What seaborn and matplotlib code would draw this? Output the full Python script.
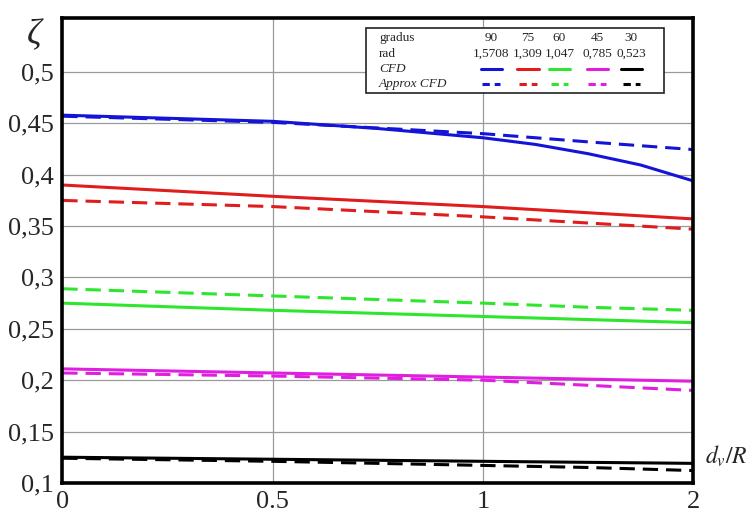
import numpy as np
import pandas as pd
import matplotlib
matplotlib.use("Agg")
import matplotlib.pyplot as plt
import seaborn as sns
from matplotlib.patches import Rectangle

# d_v/R sample points (axis is drawn with equal spacing for 0, 0.5, 1, 2)
dvr = [0, 0.5, 1, 1.5, 2]
dvr_fine = [0, 0.25, 0.5, 0.75, 1, 1.25, 1.5, 1.75, 2]  # blue CFD curve bends
tick_vals = [0, 0.5, 1, 2]
tick_labels = ["0", "0.5", "1", "2"]

angles_deg = ["90", "75", "60", "45", "30"]
angles_rad = ["1,5708", "1,309", "1,047", "0,785", "0,523"]
colors = ["#1414d8", "#e01c1c", "#2ee62e", "#e01ee0", "#000000"]

cfd_90 = [0.458, 0.455, 0.452, 0.445, 0.436, 0.4295, 0.4205, 0.4095, 0.394]
cfd = {
    "75": [0.390, 0.379, 0.369, 0.363, 0.357],
    "60": [0.275, 0.268, 0.262, 0.259, 0.256],
    "45": [0.211, 0.207, 0.203, 0.201, 0.199],
    "30": [0.125, 0.123, 0.121, 0.120, 0.119],
}
approx = {
    "90": [0.457, 0.451, 0.440, 0.432, 0.4245],
    "75": [0.375, 0.369, 0.359, 0.353, 0.347],
    "60": [0.289, 0.282, 0.275, 0.271, 0.268],
    "45": [0.207, 0.204, 0.200, 0.195, 0.190],
    "30": [0.124, 0.121, 0.117, 0.115, 0.112],
}
yticks = [0.1, 0.15, 0.2, 0.25, 0.3, 0.35, 0.4, 0.45, 0.5]


def to_pos(x):
    return np.interp(x, tick_vals, range(len(tick_vals)))


# long table for seaborn
rows = []
for x, v in zip(dvr_fine, cfd_90):
    rows.append({"pos": to_pos(x), "zeta": v, "angle": "90", "model": "CFD"})
for a in angles_deg:
    for i, x in enumerate(dvr):
        if a in cfd:
            rows.append({"pos": to_pos(x), "zeta": cfd[a][i], "angle": a, "model": "CFD"})
        rows.append({"pos": to_pos(x), "zeta": approx[a][i], "angle": a, "model": "Approx CFD"})
df = pd.DataFrame(rows)

sns.set_style("white")
plt.rcParams["font.family"] = ["Liberation Serif", "DejaVu Serif"]

fig = plt.figure(figsize=(7.51, 5.17), dpi=100)
ax = fig.add_axes([0.083, 0.066, 0.840, 0.899])

sns.lineplot(data=df, x="pos", y="zeta", hue="angle", style="model",
             palette=dict(zip(angles_deg, colors)),
             dashes={"CFD": "", "Approx CFD": (5, 2.6)},
             linewidth=2.2, legend=False, ax=ax)

ax.set_xlim(0, 3)
ax.set_ylim(0.1, 0.5525)
ax.set_xticks(range(4))
ax.set_xticklabels(tick_labels)
ax.set_yticks(yticks)
ax.set_yticklabels([f"{v:g}".replace(".", ",") for v in yticks])
ax.tick_params(labelsize=19, length=0, pad=6)
ax.grid(True, color="#9a9a9a", linewidth=0.9)
ax.set_axisbelow(True)
for s in ax.spines.values():
    s.set_linewidth(2.6)
    s.set_color("black")
ax.set_xlabel("")
ax.set_ylabel("")

fig.text(0.045, 0.93, "ζ", fontsize=26, style="italic", ha="center", va="center")
fig.text(0.995, 0.118, r"$d_v/R$", fontsize=17, ha="right", va="center",
         math_fontfamily="stix")

# table-style legend
ax.add_patch(Rectangle((0.482, 0.839), 0.472, 0.139, transform=ax.transAxes,
                       facecolor="white", edgecolor="#222222", linewidth=1.2, zorder=5))
row_y = [0.957, 0.923, 0.890, 0.858]
col_x = [0.680, 0.738, 0.788, 0.848, 0.902]
fs = 9.5
ax.text(0.502, row_y[0], "gradus", transform=ax.transAxes, fontsize=fs, va="center", zorder=6)
ax.text(0.502, row_y[1], "rad", transform=ax.transAxes, fontsize=fs, va="center", zorder=6)
ax.text(0.502, row_y[2], "CFD", transform=ax.transAxes, fontsize=fs, va="center", style="italic", zorder=6)
ax.text(0.502, row_y[3], "Approx CFD", transform=ax.transAxes, fontsize=fs, va="center", style="italic", zorder=6)
for cx, d, r, col in zip(col_x, angles_deg, angles_rad, colors):
    ax.text(cx, row_y[0], d, transform=ax.transAxes, fontsize=fs, ha="center", va="center", zorder=6)
    ax.text(cx, row_y[1], r, transform=ax.transAxes, fontsize=fs, ha="center", va="center", zorder=6)
    ax.plot([cx - 0.017, cx + 0.017], [row_y[2]] * 2, transform=ax.transAxes,
            color=col, linewidth=2.2, zorder=6)
    ax.plot([cx - 0.014, cx + 0.014], [row_y[3]] * 2, transform=ax.transAxes,
            color=col, linewidth=2.2, dashes=(2.4, 1.6), zorder=6)

fig.savefig("out.png", dpi=100)
